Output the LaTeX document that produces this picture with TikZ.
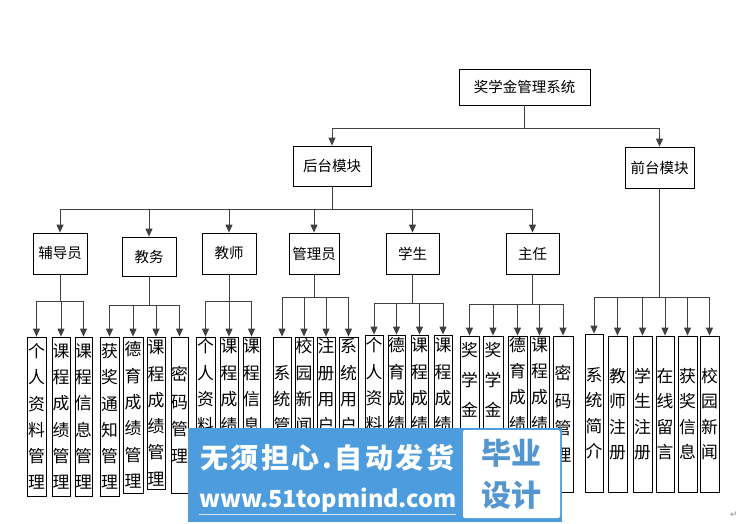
\documentclass[tikz,border=0pt]{standalone}
\usepackage{fontspec}
\usetikzlibrary{arrows.meta}
\newfontfamily\cjk{Noto Sans CJK SC}
\newfontfamily\symfont{DejaVu Sans}
\definecolor{wmblue}{RGB}{77,157,222}
\definecolor{wmtext}{RGB}{84,150,208}
\newcommand{\vbx}[7][26.3]{%
  \node[vbox, minimum width=#4pt-#3pt, minimum height=#6pt-#5pt,
        font=\cjk\fontsize{16.8}{#1}\selectfont]
    (#2) at ({(#3+#4)/2},{(#5+#6)/2}) {#7};}
\newcommand{\hbx}[6]{%
  \node[hbox, minimum width=#3pt-#2pt, minimum height=#5pt-#4pt]
    (#1) at ({(#2+#3)/2},{(#4+#5)/2}) {#6};}
\begin{document}
\begin{tikzpicture}[x=1pt,y=-1pt,
  vbox/.style={draw=black, line width=0.8pt, inner sep=0pt, align=center, anchor=center},
  hbox/.style={draw=black, line width=0.8pt, inner sep=0pt, font=\cjk\fontsize{14.5}{16}\selectfont, anchor=center},
  conn/.style={draw=black!75, line width=1pt},
  arr/.style={conn, -{Triangle[length=8pt,width=7pt]}}]
\useasboundingbox (0,0) rectangle (749,523);
% level 0-2
\hbx{top}{459}{590}{69}{105}{奖学金管理系统}
\hbx{ht}{293}{371}{146}{186}{后台模块}
\hbx{qt}{625}{694}{147}{188}{前台模块}
\hbx{fdy}{33}{87}{233}{274}{辅导员}
\hbx{jw}{122}{176}{237}{276}{教务}
\hbx{js}{202}{256}{233}{274}{教师}
\hbx{gly}{289}{339}{233}{274}{管理员}
\hbx{xs}{386}{439}{233}{274}{学生}
\hbx{zr}{506}{559}{233}{274}{主任}
% level 3
\vbx{a1}{27}{46}{337}{496}{个\\人\\资\\料\\管\\理}
\vbx{a2}{52}{70}{337}{496}{课\\程\\成\\绩\\管\\理}
\vbx{a3}{75}{92}{337}{496}{课\\程\\信\\息\\管\\理}
\vbx{b1}{100}{119}{337}{496}{获\\奖\\通\\知\\管\\理}
\vbx{b2}{123}{143}{337}{493}{德\\育\\成\\绩\\管\\理}
\vbx{b3}{147}{165}{337}{489}{课\\程\\成\\绩\\管\\理}
\vbx[27.3]{b4}{171}{188}{337}{493}{密\\码\\管\\理}
\vbx{c1}{196}{215}{337}{494}{个\\人\\资\\料\\\strut\\\strut}
\vbx{c2}{220}{238}{337}{494}{课\\程\\成\\绩\\\strut\\\strut}
\vbx{c3}{243}{260}{337}{494}{课\\程\\信\\息\\\strut\\\strut}
\vbx{d1}{273}{291}{337}{494}{系\\统\\管\\\strut}
\vbx{d2}{295}{313}{337}{494}{校\\园\\新\\闻\\\strut\\\strut}
\vbx{d3}{317}{335}{337}{494}{注\\册\\用\\户\\\strut\\\strut}
\vbx{d4}{339}{358}{337}{494}{系\\统\\用\\户\\\strut\\\strut}
\vbx{e1}{365}{383}{335}{494}{个\\人\\资\\料\\\strut\\\strut}
\vbx{e2}{388}{405}{335}{494}{德\\育\\成\\绩\\\strut\\\strut}
\vbx{e3}{411}{428}{335}{494}{课\\程\\成\\绩\\\strut\\\strut}
\vbx{e4}{434}{452}{335}{494}{课\\程\\成\\绩\\\strut\\\strut}
\vbx[30]{f1}{460}{479}{336}{492}{奖\\学\\金\\\strut\\\strut}
\vbx[30]{f2}{483}{503}{336}{492}{奖\\学\\金\\\strut\\\strut}
\vbx{f3}{508}{527}{336}{492}{德\\育\\成\\绩\\\strut\\\strut}
\vbx{f4}{530}{549}{336}{492}{课\\程\\成\\绩\\\strut\\\strut}
\vbx[27.3]{f5}{553}{573}{336}{492}{密\\码\\管\\理}
\vbx[25.5]{g1}{585}{603}{334}{492}{系\\统\\简\\介}
\vbx[25.5]{g2}{608}{627}{336}{492}{教\\师\\注\\册}
\vbx[25.5]{g3}{633}{652}{336}{492}{学\\生\\注\\册}
\vbx[25.5]{g4}{656}{674}{336}{492}{在\\线\\留\\言}
\vbx[25.5]{g5}{678}{697}{336}{492}{获\\奖\\信\\息}
\vbx[25.5]{g6}{700}{719}{336}{492}{校\\园\\新\\闻}
% bus coordinates
\coordinate (busTop) at (524.5,128);
\coordinate (busHt) at (332,209);
\coordinate (busFdy) at (60,301);
\coordinate (busJw) at (149,305);
\coordinate (busJs) at (229,301);
\coordinate (busGly) at (314,297);
\coordinate (busXs) at (412.5,303);
\coordinate (busZr) at (532.5,304);
\coordinate (busQt) at (659.5,297);
% level 0 -> 1
\draw[conn] (top) -- (busTop);
\draw[conn] (ht |- busTop) -- (qt |- busTop);
\draw[arr] (ht |- busTop) -- (ht);
\draw[arr] (qt |- busTop) -- (qt);
% level 1 -> 2
\draw[conn] (ht) -- (busHt);
\draw[conn] (fdy |- busHt) -- (zr |- busHt);
\foreach \n in {fdy,jw,js,gly,xs,zr} \draw[arr] (\n |- busHt) -- (\n);
% level 2 -> 3
\draw[conn] (fdy) -- (busFdy);
\draw[conn] (a1 |- busFdy) -- (a3 |- busFdy);
\foreach \n in {a1,a2,a3} \draw[arr] (\n |- busFdy) -- (\n);
\draw[conn] (jw) -- (busJw);
\draw[conn] (b1 |- busJw) -- (b4 |- busJw);
\foreach \n in {b1,b2,b3,b4} \draw[arr] (\n |- busJw) -- (\n);
\draw[conn] (js) -- (busJs);
\draw[conn] (c1 |- busJs) -- (c3 |- busJs);
\foreach \n in {c1,c2,c3} \draw[arr] (\n |- busJs) -- (\n);
\draw[conn] (gly) -- (busGly);
\draw[conn] (d1 |- busGly) -- (d4 |- busGly);
\foreach \n in {d1,d2,d3,d4} \draw[arr] (\n |- busGly) -- (\n);
\draw[conn] (xs) -- (busXs);
\draw[conn] (e1 |- busXs) -- (e4 |- busXs);
\foreach \n in {e1,e2,e3,e4} \draw[arr] (\n |- busXs) -- (\n);
\draw[conn] (zr) -- (busZr);
\draw[conn] (f1 |- busZr) -- (f5 |- busZr);
\foreach \n in {f1,f2,f3,f4,f5} \draw[arr] (\n |- busZr) -- (\n);
\draw[conn] (qt) -- (busQt);
\draw[conn] (g1 |- busQt) -- (g6 |- busQt);
\foreach \n in {g1,g2,g3,g4,g5,g6} \draw[arr] (\n |- busQt) -- (\n);
% paragraph mark
\node[font=\symfont\fontsize{9}{10}\selectfont, text=black!45, inner sep=0pt] (pm) at (734,515) {↵};
% watermark
\fill[wmblue] (188,428) rectangle (562,522);
\node[fill=white, rounded corners=2pt, minimum width=97pt, minimum height=88pt, inner sep=0pt] (wmbox) at (511.5,474) {};
\node[text=wmtext, font=\cjk\bfseries\fontsize{30}{42}\selectfont, align=center, inner sep=0pt] (wmbiye) at (wmbox) {毕业\\设计};
\node[text=white, font=\cjk\bfseries\fontsize{28}{30}\selectfont\addfontfeatures{LetterSpace=9}, inner sep=0pt, anchor=west] (wm1) at (200,458) {无须担心.自动发货};
\node[text=white, font=\cjk\bfseries\fontsize{23.5}{26}\selectfont, inner sep=0pt, anchor=west] (wm2) at (199,500) {www.51topmind.com};
\draw[white!75!wmblue, line width=1.2pt] (wm2.south west) ++(0,2) -- ++(257,0);
\end{tikzpicture}
\end{document}
